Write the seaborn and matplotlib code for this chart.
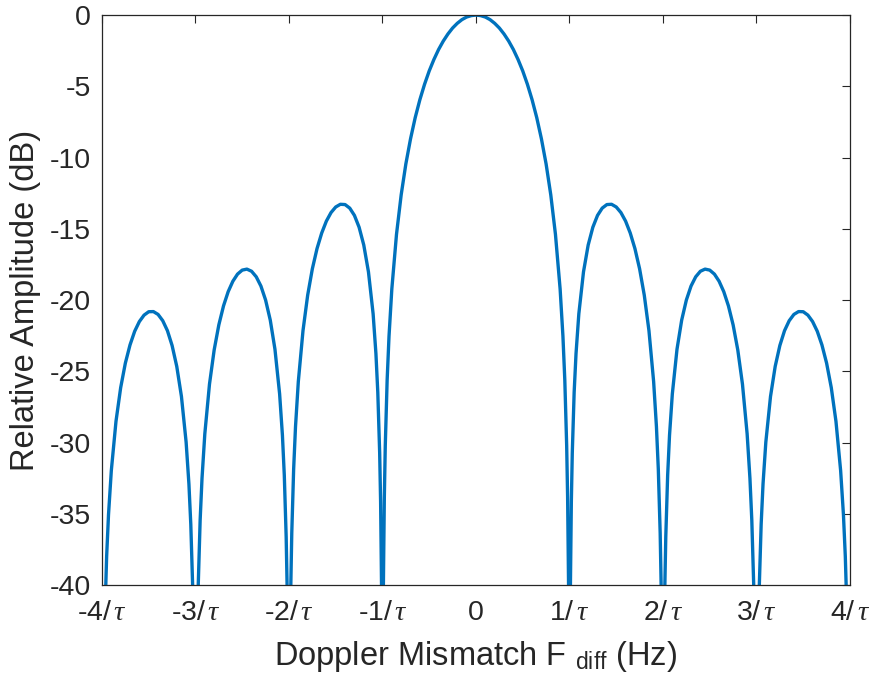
import matplotlib
matplotlib.use("Agg")
import matplotlib.pyplot as plt
import seaborn as sns
import pandas as pd

# Doppler mismatch (in units of 1/tau) and relative amplitude (dB)
freq_left = [
    -4.0, -3.99, -3.98, -3.97, -3.95, -3.93, -3.9, -3.85, -3.8, -3.75, -3.7, -3.65, -3.6, -3.55,
    -3.5, -3.45, -3.4, -3.35, -3.3, -3.25, -3.2, -3.15, -3.1, -3.07, -3.05, -3.03, -3.02, -3.01,
    -3.0, -2.99, -2.98, -2.97, -2.95, -2.93, -2.9, -2.85, -2.8, -2.75, -2.7, -2.65, -2.6, -2.55,
    -2.5, -2.45, -2.4, -2.35, -2.3, -2.25, -2.2, -2.15, -2.1, -2.07, -2.05, -2.03, -2.02, -2.01,
    -2.0, -1.99, -1.98, -1.97, -1.95, -1.93, -1.9, -1.85, -1.8, -1.75, -1.7, -1.65, -1.6, -1.55,
    -1.5, -1.45, -1.4, -1.35, -1.3, -1.25, -1.2, -1.15, -1.1, -1.07, -1.05, -1.03, -1.02, -1.01,
    -1.0, -0.99, -0.98, -0.97, -0.95, -0.93, -0.9, -0.85, -0.8, -0.75, -0.7, -0.65, -0.6, -0.55,
    -0.5, -0.45, -0.4, -0.35, -0.3, -0.25, -0.2, -0.15, -0.1, -0.05,
]
amp_left = [
    -80, -52.02, -45.98, -42.45, -37.99, -35.06, -31.97, -28.51, -26.15, -24.43, -23.15, -22.19, -21.51, -21.06,
    -20.82, -20.81, -21.01, -21.45, -22.15, -23.19, -24.66, -26.77, -29.97, -32.91, -35.74, -40.10, -43.59, -49.57,
    -80, -49.51, -43.47, -39.93, -35.45, -32.51, -29.39, -25.90, -23.50, -21.74, -20.41, -19.41, -18.68, -18.18,
    -17.90, -17.83, -17.98, -18.37, -19.02, -20.00, -21.41, -23.45, -26.59, -29.49, -32.29, -36.62, -40.09, -46.07,
    -80, -45.98, -39.92, -36.36, -31.86, -28.88, -25.72, -22.15, -19.66, -17.81, -16.39, -15.30, -14.46, -13.86,
    -13.47, -13.28, -13.30, -13.55, -14.06, -14.89, -16.14, -18.02, -20.97, -23.76, -26.48, -30.73, -34.16, -40.09,
    -80, -39.91, -33.81, -30.21, -25.61, -22.54, -19.23, -15.39, -12.62, -10.45, -8.69, -7.20, -5.94, -4.86,
    -3.92, -3.12, -2.42, -1.83, -1.33, -0.91, -0.58, -0.32, -0.14, -0.04,
]
freq_right = [
    0.0, 0.05, 0.1, 0.15, 0.2, 0.25, 0.3, 0.35, 0.4, 0.45, 0.5, 0.55, 0.6, 0.65, 0.7, 0.75, 0.8, 0.85,
    0.9, 0.93, 0.95, 0.97, 0.98, 0.99, 1.0,
    1.01, 1.02, 1.03, 1.05, 1.07, 1.1, 1.15, 1.2, 1.25, 1.3, 1.35, 1.4, 1.45, 1.5, 1.55, 1.6, 1.65,
    1.7, 1.75, 1.8, 1.85, 1.9, 1.93, 1.95, 1.97, 1.98, 1.99, 2.0,
    2.01, 2.02, 2.03, 2.05, 2.07, 2.1, 2.15, 2.2, 2.25, 2.3, 2.35, 2.4, 2.45, 2.5, 2.55, 2.6, 2.65,
    2.7, 2.75, 2.8, 2.85, 2.9, 2.93, 2.95, 2.97, 2.98, 2.99, 3.0,
    3.01, 3.02, 3.03, 3.05, 3.07, 3.1, 3.15, 3.2, 3.25, 3.3, 3.35, 3.4, 3.45, 3.5, 3.55, 3.6, 3.65,
    3.7, 3.75, 3.8, 3.85, 3.9, 3.93, 3.95, 3.97, 3.98, 3.99, 4.0,
]
amp_right = [
    0.0, -0.04, -0.14, -0.32, -0.58, -0.91, -1.33, -1.83, -2.42, -3.12, -3.92, -4.86, -5.94, -7.20, -8.69, -10.45, -12.62, -15.39,
    -19.23, -22.54, -25.61, -30.21, -33.81, -39.91, -80,
    -40.09, -34.16, -30.73, -26.48, -23.76, -20.97, -18.02, -16.14, -14.89, -14.06, -13.55, -13.30, -13.28, -13.47, -13.86, -14.46, -15.30,
    -16.39, -17.81, -19.66, -22.15, -25.72, -28.88, -31.86, -36.36, -39.92, -45.98, -80,
    -46.07, -40.09, -36.62, -32.29, -29.49, -26.59, -23.45, -21.41, -20.00, -19.02, -18.37, -17.98, -17.83, -17.90, -18.18, -18.68, -19.41,
    -20.41, -21.74, -23.50, -25.90, -29.39, -32.51, -35.45, -39.93, -43.47, -49.51, -80,
    -49.57, -43.59, -40.10, -35.74, -32.91, -29.97, -26.77, -24.66, -23.19, -22.15, -21.45, -21.01, -20.81, -20.82, -21.06, -21.51, -22.19,
    -23.15, -24.43, -26.15, -28.51, -31.97, -35.06, -37.99, -42.45, -45.98, -52.02, -80,
]

x_ticks = [-4, -3, -2, -1, 0, 1, 2, 3, 4]
x_tick_labels = ["-4/$\\,\\tau$", "-3/$\\,\\tau$", "-2/$\\,\\tau$", "-1/$\\,\\tau$", "0",
                 "1/$\\,\\tau$", "2/$\\,\\tau$", "3/$\\,\\tau$", "4/$\\,\\tau$"]
y_ticks = [-40, -35, -30, -25, -20, -15, -10, -5, 0]

df = pd.DataFrame({"freq": freq_left + freq_right, "amp": amp_left + amp_right})

sns.set_theme(style="white")
plt.rcParams["font.family"] = ["Liberation Sans", "DejaVu Sans"]
plt.rcParams["mathtext.fontset"] = "custom"
plt.rcParams["mathtext.rm"] = "Liberation Sans"
plt.rcParams["mathtext.it"] = "Liberation Serif:italic"
plt.rcParams["axes.unicode_minus"] = False

fig = plt.figure(figsize=(8.76, 6.84), dpi=100)
ax = fig.add_axes([0.1164, 0.1447, 0.8539, 0.8333])

sns.lineplot(data=df, x="freq", y="amp", ax=ax, color="#0072BD", linewidth=2.4,
             estimator=None, sort=False)

ax.set_xlim(-4, 4)
ax.set_ylim(-40, 0)
ax.set_xticks(x_ticks)
ax.set_xticklabels(x_tick_labels)
ax.set_yticks(y_ticks)
ax.set_yticklabels([str(v) for v in y_ticks])

ax.tick_params(axis="both", which="major", direction="in", length=6, width=0.8,
               color="#262626", labelsize=20.5, labelcolor="#262626",
               top=True, right=True, pad=8)
ax.tick_params(axis="x", pad=11)
for s in ax.spines.values():
    s.set_visible(True)
    s.set_color("#262626")
    s.set_linewidth(0.9)

ax.set_xlabel("Doppler Mismatch F $_{\\mathrm{diff}}$ (Hz)", fontsize=23.5, color="#262626", labelpad=9)
ax.set_ylabel("Relative Amplitude (dB)", fontsize=23.5, color="#262626", labelpad=6)

fig.savefig("out.png", dpi=100)
